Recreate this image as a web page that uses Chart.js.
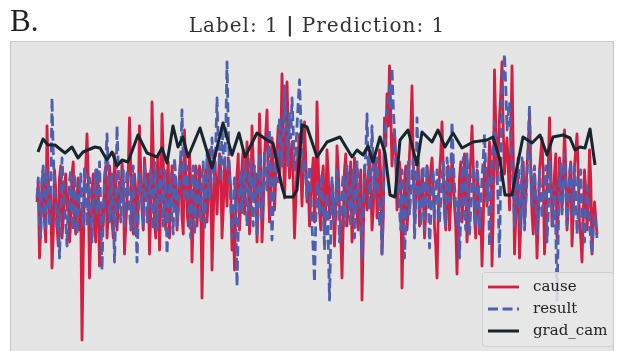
<!DOCTYPE html>
<html>
<head>
<meta charset="utf-8">
<title>Label: 1 | Prediction: 1</title>
<script src="https://cdn.jsdelivr.net/npm/chart.js@4/dist/chart.umd.min.js"></script>
<style>
  html, body { margin: 0; padding: 0; background: #ffffff; }
  #wrap { width: 617px; height: 351px; position: relative; }
</style>
</head>
<body>
<div id="wrap"><canvas id="c" width="617" height="351"></canvas></div>
<script>
// Panel text
const panelTag = "B.";
const titleParts = ["Label: 1 ", "|", " Prediction: 1"];
const seriesNames = ["cause", "result", "grad_cam"];

// Input signal (cause), one value per time step
const cause = [
  -0.3, 0.2, -1.7, -0.9, 0.2, 0.5, -0.8, -1.3, 1.6, 0.4, -0.6, -0.1, -1.95, -1.1, 0.5, 0.0, -0.9, -1.4, 0.3, 0.6,
  -1.2, -0.7, 0.1, 0.4, -0.5, -0.1, -1.3, -0.8, 0.4, 0.7, -0.7, -1.1, -0.2, 0.3, -1.0, -0.5, -3.75, -1.6, 0.2, 0.6,
  1.4, 0.3, -2.2, -1.2, 0.0, 0.4, -0.9, -1.3, 0.5, 0.1, -1.9, -1.0, -0.4, -0.9, 0.3, 0.6, -1.2, -0.6, 0.6, 0.2,
  -0.8, -1.2, 0.9, 0.2, -1.0, -0.4, 0.2, -0.3, 0.7, 0.3, -1.6, -0.9, -0.3, 0.5, 1.8, 0.6, -0.7, -1.1, 0.4, 0.0,
  -1.1, -0.4, 1.6, 0.5, -0.5, -1.0, 0.8, 0.3, -0.2, 0.4, -1.6, -0.6, 2.2, 0.9, -0.8, -1.2, 0.5, 0.9, -1.5, -0.4,
  1.9, 0.8, -0.6, -1.0, 0.3, 0.7, -1.2, -0.3, 0.6, 0.1, -0.4, 0.3, -1.0, -0.5, 0.4, 0.8, -0.7, -1.1, 1.5, 0.4,
  -0.5, -0.9, 0.9, 0.2, -1.8, -0.7, 0.2, 0.6, -0.9, -0.3, 0.6, -0.2, -2.7, -1.0, 0.1, 0.5, -0.8, -0.2, 1.0, 0.3,
  -2.0, -0.8, 0.8, 0.3, -0.6, 0.2, 0.9, 0.5, -1.2, -0.5, 0.7, 0.2, -0.4, 0.8, 0.5, 0.0, -1.5, -0.6, -2.0, -0.5,
  0.4, 0.9, -1.0, -0.3, 0.6, 1.0, -0.6, 0.2, 1.2, 0.5, -1.1, -0.4, 1.6, 0.7, -0.3, 0.4, -1.3, -0.2, 1.9, 0.6,
  -1.3, -0.5, 0.8, 1.4, 2.0, 0.4, -0.8, 0.1, 1.3, 0.6, -0.5, 0.3, 1.0, 1.6, 0.2, 1.1, 2.9, 1.3, -0.2, 0.9,
  2.7, 1.5, 0.3, 0.8, 1.2, 0.2, -1.2, -0.3, 0.6, 1.0, 1.4, 0.5, -0.4, 0.6, 1.7, 0.8, -0.3, 0.2, -0.9, -0.2,
  0.4, 0.8, -0.8, 0.0, 2.2, 0.7, -0.5, -1.0, 0.3, 0.6, -1.1, -0.4, 1.0, 0.4, -0.7, -0.2, 0.2, -0.5, -1.4, -0.6,
  1.1, 0.5, -0.4, -1.1, -2.2, -0.8, 0.5, 0.9, -0.9, -0.4, 0.3, 0.7, -1.3, -0.6, 0.8, 0.2, -0.6, -1.0, 0.1, 0.5,
  -2.75, -1.2, 0.6, 0.1, -0.5, 0.3, 0.9, 0.2, -1.0, -0.5, 0.4, 0.8, -0.7, -0.2, 1.0, 0.4, -1.6, -0.7, 1.8, 1.1,
  2.4, 1.6, 3.1, 1.9, 0.6, 1.2, 1.5, 0.8, -0.5, 0.1, 0.7, 0.2, -2.45, -1.0, 0.2, 0.6, -1.0, -0.4, 0.9, 1.5,
  2.6, 0.7, -0.8, -0.3, 0.3, 0.7, -0.9, -0.2, 0.5, 0.0, -1.2, -0.6, 0.6, 0.2, -0.3, 0.5, 0.8, 0.1, -0.9, -1.4,
  -2.2, -0.6, 0.4, 0.9, 1.7, 0.6, -0.6, -1.0, 0.2, 0.6, -1.0, -0.3, 0.9, 0.3, -0.4, -0.9, -2.1, -0.7, 0.3, 0.7,
  -0.8, -0.2, 0.9, 0.3, -1.3, -0.5, 0.2, 0.8, 1.6, 0.6, -0.7, -1.2, 0.5, 0.1, -1.1, -0.5, -1.9, -0.8, 0.7, 0.2,
  -0.4, 0.4, 1.2, 0.5, -1.9, -0.6, 3.0, 1.6, 0.2, 0.9, 1.8, 2.4, 3.2, 1.5, 0.4, 0.9, 1.3, 0.6, -0.5, 1.2,
  3.1, 0.9, -1.6, -0.7, 0.5, 0.1, -1.7, -0.9, 0.3, 0.7, -0.8, -0.2, 0.6, 1.1, 1.9, 0.5, -0.6, -1.1, 0.4, -0.3,
  -1.7, -0.8, 0.5, 0.9, 1.3, 0.3, -1.6, -0.9, 0.2, 0.6, 1.8, 0.7, -0.9, -0.4, 0.4, 0.9, -1.2, -0.5, 0.8, 0.2,
  -0.5, 0.3, 1.5, 0.6, -1.0, -0.4, 0.3, 0.7, -1.4, -0.6, 0.6, 1.0, 1.4, 0.4, -0.8, -1.2, -1.8, -0.7, 0.5, 0.0,
  -1.0, -0.4, 1.0, 0.3, -1.6, -0.8, -0.3, -0.7, -1.1
];

// Output signal (result), same time steps
const result = [
  -0.2, 0.3, -0.8, -1.2, 0.3, 0.6, -0.5, -1.0, 0.5, 0.1, -0.9, -0.3, 2.3, 0.9, 0.1, -0.4, -1.0, -0.5, -1.7, -0.6,
  0.8, 0.2, -0.4, -0.8, -1.4, -0.3, 0.2, 0.5, -0.7, -1.0, 0.4, 0.0, -1.1, -0.6, 0.0, 0.4, -0.5, -0.9, 0.6, 0.2,
  -0.9, -0.3, 0.3, -0.6, -1.3, -0.4, 0.1, 0.5, -0.6, -0.2, 0.7, -0.4, -2.0, -0.7, 0.2, 0.7, 1.4, 0.5, -0.8, -0.2,
  0.4, -0.5, -1.8, -0.6, 1.6, 0.6, -0.3, -0.8, 0.2, 0.5, -0.9, -0.2, 0.5, 0.1, -0.5, -1.0, 0.3, 0.6, -1.1, -0.5,
  -1.8, -0.7, 0.4, 0.0, -0.3, -0.9, 0.6, 0.2, -0.8, -0.3, 0.1, 0.5, -0.5, -1.0, 0.7, 0.3, -1.0, -0.4, 0.2, 0.5,
  -0.4, -0.9, 0.5, 0.1, -1.6, -0.8, 0.0, 0.4, -0.7, -1.1, 0.8, 0.3, -0.9, -0.4, 0.3, 0.9, 2.0, 0.7, -0.3, 0.2,
  0.6, -0.2, -0.8, -1.2, 0.2, 0.6, -1.1, -0.5, 0.5, 0.0, -0.4, -0.8, 0.3, 0.7, -1.0, -0.3, 0.9, 0.4, -0.2, 0.6,
  1.3, 0.5, 0.2, 1.1, 2.3, 1.2, 0.8, 0.2, 1.6, 0.9, 0.5, 1.4, 3.2, 1.6, 0.4, -0.3, -1.2, -0.4, 0.3, -0.6,
  -2.4, -1.0, 0.1, 0.5, -0.6, -0.1, 0.7, 0.2, -0.9, -0.4, 0.4, 0.8, -0.5, -0.9, 0.6, 0.1, -1.1, -0.5, 0.9, 0.3,
  -0.7, -0.1, 1.0, 0.4, 0.0, 0.7, 1.5, 0.2, -1.25, -0.3, 1.1, 0.6, 0.2, 0.9, 1.8, 1.2, 0.6, 1.4, 2.6, 1.8,
  1.2, 0.6, 1.9, 1.3, 2.3, 1.5, 0.5, 1.0, 1.6, 2.2, 2.75, 1.8, 1.0, 0.4, 0.8, 0.3, -0.2, 0.2, 0.6, -0.1,
  -0.9, -1.5, -2.3, -0.8, 0.2, -0.2, -0.6, 0.1, 0.4, -0.4, -1.5, -0.7, -0.1, -1.3, -2.75, -1.2, 0.3, -0.2, -0.8, -0.3,
  0.5, -0.2, -1.3, -0.7, 0.0, 0.4, -0.9, -0.5, 0.6, 0.2, -0.4, -0.9, 0.2, 0.5, -1.2, -0.6, 0.7, 0.2, -0.3, -0.8,
  -1.7, -0.6, 0.4, 0.9, 1.9, 0.6, -0.5, 0.2, 1.6, 0.5, -0.2, 0.3, 0.8, 0.1, -0.9, -0.4, -1.6, -0.5, 1.2, 1.6,
  1.9, 2.2, 2.6, 2.0, 3.05, 2.1, 1.4, 0.7, 0.2, 0.6, -0.5, -1.0, 0.5, 0.0, -1.7, -0.8, 0.3, 0.7, -0.6, -0.1,
  0.4, 0.8, -1.2, -0.5, 1.8, 0.6, -0.4, -0.9, 0.2, 0.6, -1.0, -0.3, 0.6, 0.1, -1.45, -0.7, 0.1, 0.5, -0.7, -0.2,
  0.5, 0.1, -0.8, -0.3, 0.3, 0.7, -0.5, -0.9, 0.8, 0.3, -0.3, 0.4, 1.7, 0.8, 0.1, -0.4, -0.9, -0.3, -1.7, -0.6,
  0.4, 0.8, -0.6, -1.0, 0.9, 0.3, -1.1, -0.5, 0.2, 0.6, -0.5, -0.9, 0.7, 0.2, -1.0, -0.4, 0.3, 0.8, 1.4, 0.5,
  -0.3, 0.3, -1.4, -0.6, 0.8, 1.2, 1.7, 0.9, 0.5, -0.4, -1.7, 0.4, 2.4, 2.9, 3.4, 2.6, 1.5, 1.9, 2.2, 1.3,
  0.6, 0.1, -0.9, -0.3, 0.4, 0.8, -0.6, -1.0, 0.8, 0.2, -1.0, -0.4, 0.3, 1.2, 2.1, 0.7, -0.4, 0.2, 0.6, -0.3,
  -1.1, -0.5, 0.5, 0.0, -0.7, -0.2, 0.2, 0.6, -1.3, -0.6, 0.7, 0.2, -0.5, -0.9, 0.1, -0.9, -2.75, -1.1, 0.3, 0.7,
  -0.6, -0.1, 0.9, 0.3, -0.9, -0.4, 0.4, 0.7, -0.2, -0.7, 0.6, 0.1, -1.1, -0.6, 0.2, 0.5, -0.7, -1.0, -1.3, -0.4,
  0.1, -0.3, -0.9, -1.2, -1.6, -1.0, -0.6, -0.9, -1.2
];

// Grad-CAM activation: vertex time steps and values
const gradCamT = [
  0.8, 4.8, 8.8, 14.4, 22.4, 28.0, 32.8, 36.8, 46.4, 50.4,
  56.0, 60.0, 64.0, 68.0, 72.8, 80.8, 88.0, 96.0, 100.0, 104.0,
  108.8, 112.8, 116.8, 120.8, 130.4, 140.0, 148.8, 156.0, 161.6, 166.4,
  176.0, 184.0, 188.8, 196.0, 198.4, 204.8, 208.0, 212.0, 216.0, 224.0,
  232.0, 242.4, 252.0, 256.0, 260.8, 264.8, 268.8, 274.4, 278.4, 282.4,
  286.4, 290.4, 296.8, 304.0, 308.0, 316.0, 320.8, 326.4, 332.8, 340.0,
  348.8, 360.0, 364.8, 370.4, 374.4, 380.0, 384.0, 388.8, 396.0, 402.4,
  408.0, 412.8, 420.8, 426.4, 430.4, 434.4, 438.4, 442.4, 446.4
];
const gradCam = [
  0.95, 1.275, 1.125, 1.125, 0.925, 1.075, 0.8, 0.95, 1.075, 1.05,
  0.75, 0.95, 0.6, 0.75, 0.7, 1.375, 0.925, 0.825, 1.05, 0.675,
  1.6, 1.075, 1.325, 0.825, 1.55, 0.55, 1.675, 0.875, 1.425, 0.825,
  1.425, 1.25, 1.175, 0.075, -0.175, -0.175, 0.0, 1.625, 1.575, 0.825,
  1.2, 1.325, 0.825, 1.0, 0.875, 1.1, 0.7, 1.325, 0.925, -0.125,
  -0.175, 1.25, 1.5, 0.625, 1.45, 1.2, 1.5, 1.075, 1.425, 1.05,
  1.2, 1.25, 1.325, 0.75, -0.125, -0.125, 0.575, 1.325, 1.175, 1.375,
  0.875, 1.325, 1.375, 1.3, 1.0, 1.075, 1.05, 1.525, 0.625
];

const colors = { cause: "#d51f42", result: "#4d5fae", gradCam: "#17252f" };
const SERIF = "'DejaVu Serif', 'Liberation Serif', serif";

const toXY = (vals) => vals.map((v, i) => ({ x: i, y: v }));
const camXY = gradCamT.map((t, i) => ({ x: t, y: gradCam[i] }));

// Horizontal margins of the data inside the panel, in time steps
const lastStep = cause.length - 1;
const stepPx = 560 / lastStep;
const xMin = -27 / stepPx;
const xMax = lastStep + 17 / stepPx;

// Grey panel behind the plot with a thin frame (bottom edge runs off the canvas)
const panelBg = {
  id: "panelBg",
  beforeDraw(chart) {
    const { ctx, chartArea: a } = chart;
    ctx.save();
    ctx.fillStyle = "#e5e5e5";
    ctx.fillRect(a.left, a.top, a.right - a.left, a.bottom - a.top);
    ctx.strokeStyle = "#c9c9c9";
    ctx.lineWidth = 1.2;
    ctx.beginPath();
    ctx.moveTo(a.left + 0.5, a.bottom);
    ctx.lineTo(a.left + 0.5, a.top + 0.5);
    ctx.lineTo(a.right - 0.5, a.top + 0.5);
    ctx.lineTo(a.right - 0.5, a.bottom);
    ctx.stroke();
    ctx.restore();
  }
};

// Panel tag and title with a bold separator
const headings = {
  id: "headings",
  afterDraw(chart) {
    const { ctx } = chart;
    ctx.save();
    ctx.fillStyle = "#222";
    ctx.textBaseline = "alphabetic";
    ctx.font = "31px 'Liberation Serif', serif";
    ctx.fillText(panelTag, 10, 31);

    const normal = "20px " + SERIF;
    const bold = "bold 20px " + SERIF;
    const fonts = [normal, bold, normal];
    ctx.letterSpacing = "1px";
    const widths = titleParts.map((p, i) => { ctx.font = fonts[i]; return ctx.measureText(p).width; });
    const total = widths.reduce((a, b) => a + b, 0);
    let x = 317 - total / 2;
    ctx.fillStyle = "#333";
    titleParts.forEach((p, i) => {
      ctx.font = fonts[i];
      ctx.fillText(p, x, 32);
      x += widths[i];
    });
    ctx.restore();
  }
};

// Legend box in the lower-right corner of the panel
const cornerLegend = {
  id: "cornerLegend",
  afterDraw(chart) {
    const { ctx, chartArea: a } = chart;
    const ds = chart.data.datasets;
    const boxR = a.right - 1, boxL = boxR - 131, boxT = 272, boxB = 346;
    ctx.save();
    ctx.fillStyle = "rgba(232,232,232,0.85)";
    ctx.strokeStyle = "#cfcfcf";
    ctx.lineWidth = 1;
    ctx.beginPath();
    ctx.roundRect(boxL + 0.5, boxT + 0.5, boxR - boxL, boxB - boxT, 3);
    ctx.fill();
    ctx.stroke();
    ctx.font = "15px " + SERIF;
    ctx.textBaseline = "middle";
    ds.forEach((d, i) => {
      const y = 287 + i * 22;
      ctx.strokeStyle = d.borderColor;
      ctx.lineWidth = d.borderWidth;
      ctx.setLineDash(d.borderDash || []);
      ctx.lineCap = "butt";
      ctx.beginPath();
      ctx.moveTo(boxL + 6, y);
      ctx.lineTo(boxL + 37, y);
      ctx.stroke();
      ctx.setLineDash([]);
      ctx.fillStyle = "#222";
      ctx.fillText(d.label, boxL + 51, y);
    });
    ctx.restore();
  }
};

new Chart(document.getElementById("c"), {
  type: "line",
  data: {
    datasets: [
      { label: seriesNames[0], data: toXY(cause), borderColor: colors.cause, borderWidth: 2.8,
        pointRadius: 0, tension: 0, borderJoinStyle: "round", order: 3 },
      { label: seriesNames[1], data: toXY(result), borderColor: colors.result, borderWidth: 2.8,
        borderDash: [10, 4.5], pointRadius: 0, tension: 0, borderJoinStyle: "round", order: 2 },
      { label: seriesNames[2], data: camXY, borderColor: colors.gradCam, borderWidth: 3,
        pointRadius: 0, tension: 0, borderJoinStyle: "round", order: 1 }
    ]
  },
  options: {
    responsive: false,
    animation: false,
    devicePixelRatio: 1,
    layout: { padding: { left: 10, top: 41, right: 3, bottom: 0 } },
    scales: {
      x: { type: "linear", min: xMin, max: xMax, display: false },
      y: { type: "linear", min: -4.025, max: 3.725, display: false }
    },
    plugins: { legend: { display: false }, title: { display: false }, tooltip: { enabled: false } }
  },
  plugins: [panelBg, headings, cornerLegend]
});
</script>
</body>
</html>
